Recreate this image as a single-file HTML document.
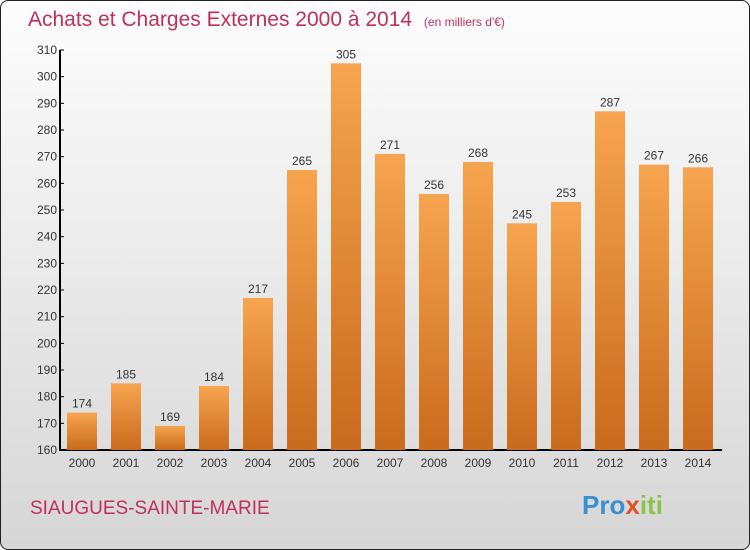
<!DOCTYPE html>
<html><head><meta charset="utf-8"><style>
body{margin:0;width:750px;height:550px;overflow:hidden;font-family:"Liberation Sans",sans-serif}
#frame{position:absolute;left:0;top:0;width:748px;height:548px;border:1px solid #222;border-radius:8px;background:linear-gradient(#fdfdfd,#d6d6d6)}
</style></head><body>
<div id="frame"></div>
<svg id="chart" width="750" height="550" style="position:absolute;left:0;top:0">
<defs><linearGradient id="bg" x1="0" y1="0" x2="0" y2="1"><stop offset="0" stop-color="#f7a450"/><stop offset="1" stop-color="#c96b1c"/></linearGradient></defs>
<text x="28" y="26" font-size="21" fill="#c0305a">Achats et Charges Externes 2000 à 2014 <tspan font-size="12" dx="6">(en milliers d'€)</tspan></text>
<text x="30" y="514" font-size="19" fill="#c0305a">SIAUGUES-SAINTE-MARIE</text>
<text x="582" y="514" font-size="26" font-weight="bold"><tspan fill="#3a8fd0">Pro</tspan><tspan fill="#e05020">x</tspan><tspan fill="#8bc34a">iti</tspan></text>
<g id="g"></g>
</svg>
<script>
const years=["2000","2001","2002","2003","2004","2005","2006","2007","2008","2009","2010","2011","2012","2013","2014"];
const values=[174,185,169,184,217,265,305,271,256,268,245,253,287,267,266];
const ticks=[160,170,180,190,200,210,220,230,240,250,260,270,280,290,300,310];
const y=v=>450-(v-160)*400/150;
const x=i=>82+i*44;
const g=document.getElementById('g');const NS='http://www.w3.org/2000/svg';
function mk(t,a,txt){const e=document.createElementNS(NS,t);for(const k in a)e.setAttribute(k,a[k]);if(txt!=null)e.textContent=txt;g.appendChild(e);return e;}
let ax=mk('line',{x1:60,y1:50,x2:60,y2:451,stroke:'#000','stroke-width':2});


let bx=mk('line',{x1:59,y1:450,x2:722,y2:450,stroke:'#000','stroke-width':2});


ticks.forEach(t=>{
 let l=mk('line',{x1:60,y1:y(t),x2:64,y2:y(t),stroke:'#000'});
 
 
 let tx=mk('text',{x:57,y:y(t)+4,'font-size':12,fill:'#333','text-anchor':'end'},t);
 
 
});
values.forEach((v,i)=>{
 let r=mk('rect',{x:x(i)-15,y:y(v),width:30,height:450-y(v),fill:'url(#bg)'});
 
 
 let vl=mk('text',{x:x(i),y:y(v)-5,'font-size':12,fill:'#333','text-anchor':'middle'},v);
 
 
 let xl=mk('text',{x:x(i),y:467,'font-size':12,fill:'#333','text-anchor':'middle'},years[i]);
 
 
});
</script>
</body></html>
